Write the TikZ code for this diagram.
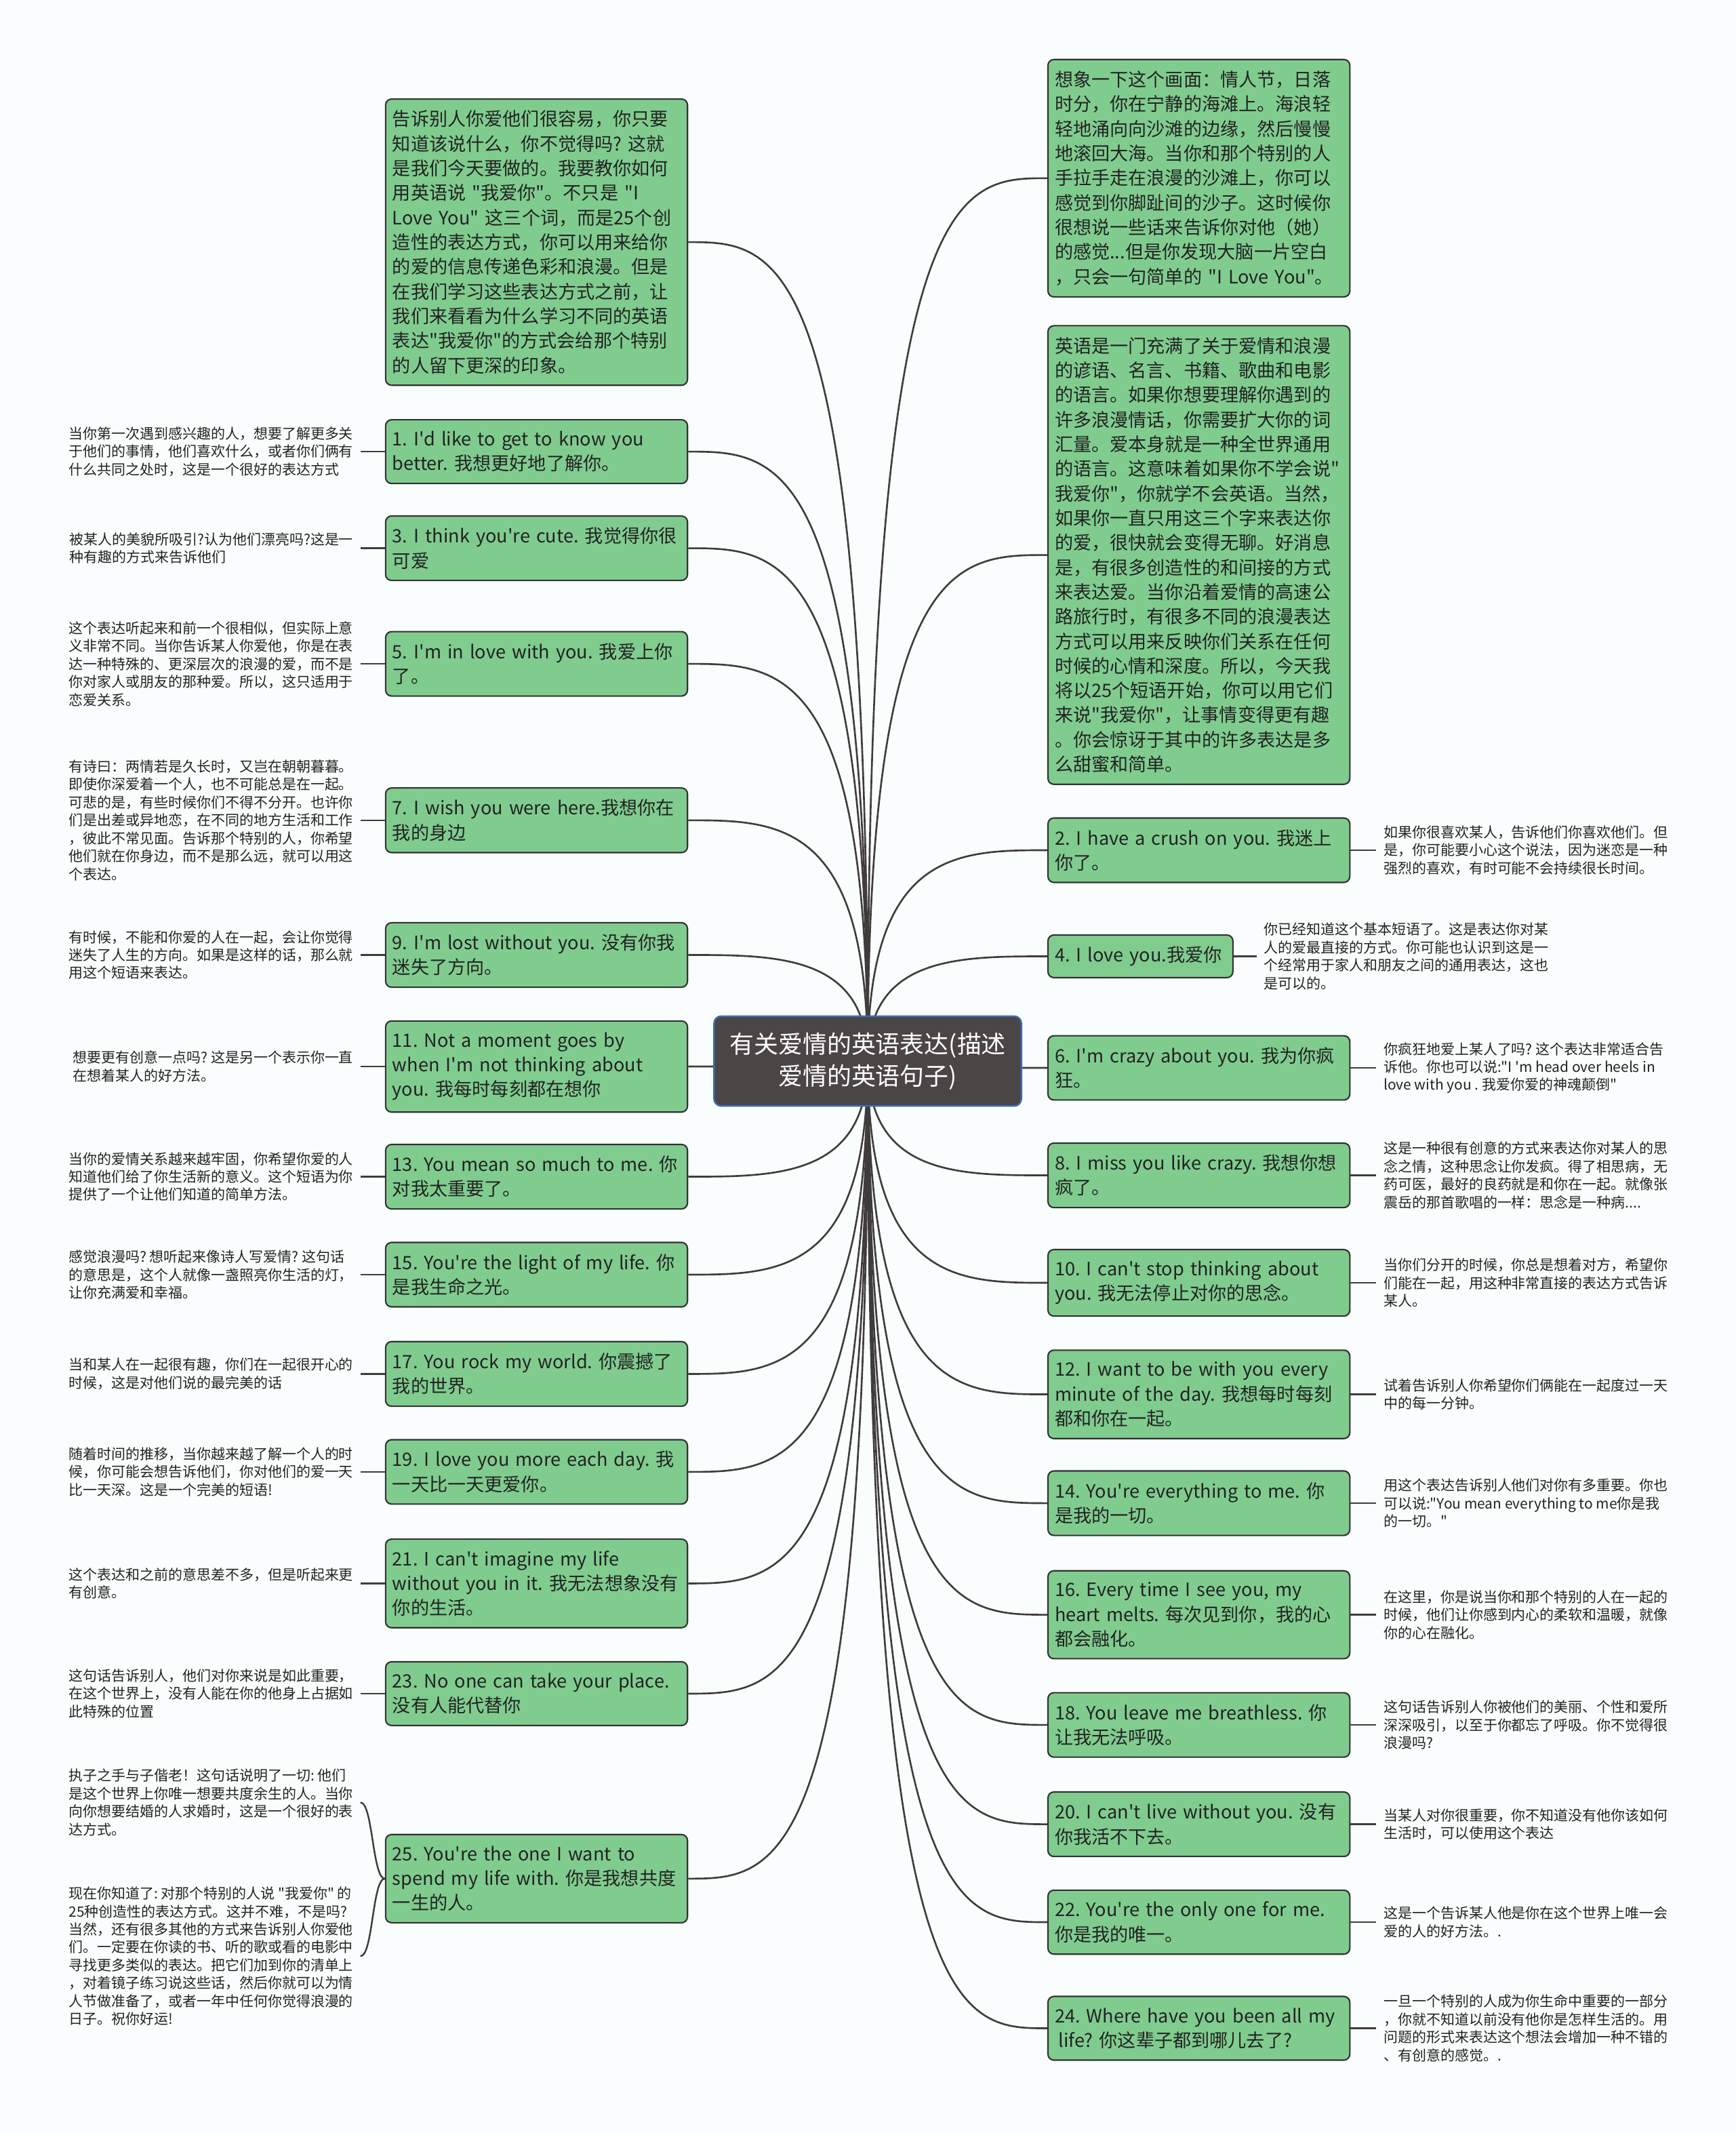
\documentclass[tikz,border=0pt]{standalone}
\usepackage{fontspec}
\setmainfont{Noto Sans CJK SC}[Ligatures=TeXOff]
\frenchspacing
\usetikzlibrary{calc,backgrounds}
\definecolor{MmGreen}{RGB}{128,204,143}
\definecolor{MmEdge}{RGB}{50,50,50}
\definecolor{MmInk}{RGB}{34,34,34}
\definecolor{MmLine}{RGB}{64,60,60}
\definecolor{MmRoot}{RGB}{74,70,70}
\definecolor{MmRootEdge}{RGB}{58,108,178}
\definecolor{MmPaper}{RGB}{250,253,253}
\tikzset{
  mm/root/.style={
    draw=MmRootEdge,
    line width=0.7pt,
    rounded corners=3pt,
    fill=MmRoot,
    text=white,
    align=center,
    minimum width=4.52cm,
    minimum height=1.32cm,
    font=\fontsize{10.2pt}{13.4pt}\selectfont
  },
  mm/box/.style={
    draw=MmEdge,
    line width=0.6pt,
    rounded corners=2.5pt,
    fill=MmGreen,
    text=MmInk,
    align=left,
    text width=4.24cm,
    inner xsep=0.1cm,
    inner ysep=4.8pt,
    font=\fontsize{7.7pt}{10.3pt}\selectfont
  },
  mm/note/.style={
    align=left,
    text=MmInk,
    inner xsep=0.1cm,
    inner ysep=2pt,
    font=\fontsize{5.95pt}{7.5pt}\selectfont
  },
  mm/link/.style={draw=MmLine, line width=0.75pt},
  mm/twig/.style={draw=MmLine, line width=0.7pt},
  mm/curve/.style={to path={.. controls (\tikztostart |- \tikztotarget) and ($(\tikztotarget)!0.5!(\tikztostart |- \tikztotarget)$) .. (\tikztotarget)}}
}

\begin{document}
\begin{tikzpicture}[x=0.02cm,y=-0.02cm]
  \useasboundingbox (0,0) rectangle (1276,1568);
  % centre
  \node[mm/root] (root) at (638,780) {有关爱情的英语表达(描述\\爱情的英语句子)};

  % left branch
  \node[mm/box,anchor=west] (intro) at (283,178) {告诉别人你爱他们很容易，你只要\\知道该说什么，你不觉得吗? 这就\\是我们今天要做的。我要教你如何\\用英语说 "我爱你"。不只是 "I\\Love You" 这三个词，而是25个创\\造性的表达方式，你可以用来给你\\的爱的信息传递色彩和浪漫。但是\\在我们学习这些表达方式之前，让\\我们来看看为什么学习不同的英语\\表达"我爱你"的方式会给那个特别\\的人留下更深的印象。};
  \node[mm/box,anchor=west] (p1) at (283,332) {1. I'd like to get to know you\\better. 我想更好地了解你。};
  \node[mm/box,anchor=west] (p3) at (283,403) {3. I think you're cute. 我觉得你很\\可爱};
  \node[mm/box,anchor=west] (p5) at (283,488) {5. I'm in love with you. 我爱上你\\了。};
  \node[mm/box,anchor=west] (p7) at (283,603) {7. I wish you were here.我想你在\\我的身边};
  \node[mm/box,anchor=west] (p9) at (283,702) {9. I'm lost without you. 没有你我\\迷失了方向。};
  \node[mm/box,anchor=west] (p11) at (283,784) {11. Not a moment goes by\\when I'm not thinking about\\you. 我每时每刻都在想你};
  \node[mm/box,anchor=west] (p13) at (283,865) {13. You mean so much to me. 你\\对我太重要了。};
  \node[mm/box,anchor=west] (p15) at (283,937) {15. You're the light of my life. 你\\是我生命之光。};
  \node[mm/box,anchor=west] (p17) at (283,1010) {17. You rock my world. 你震撼了\\我的世界。};
  \node[mm/box,anchor=west] (p19) at (283,1082) {19. I love you more each day. 我\\一天比一天更爱你。};
  \node[mm/box,anchor=west] (p21) at (283,1164) {21. I can't imagine my life\\without you in it. 我无法想象没有\\你的生活。};
  \node[mm/box,anchor=west] (p23) at (283,1245) {23. No one can take your place.\\没有人能代替你};
  \node[mm/box,anchor=west] (p25) at (283,1381) {25. You're the one I want to\\spend my life with. 你是我想共度\\一生的人。};

  \node[mm/note,anchor=east] (c1) at (265,332) {当你第一次遇到感兴趣的人，想要了解更多关\\于他们的事情，他们喜欢什么，或者你们俩有\\什么共同之处时，这是一个很好的表达方式};
  \node[mm/note,anchor=east] (c3) at (265,403) {被某人的美貌所吸引?认为他们漂亮吗?这是一\\种有趣的方式来告诉他们};
  \node[mm/note,anchor=east] (c5) at (265,488) {这个表达听起来和前一个很相似，但实际上意\\义非常不同。当你告诉某人你爱他，你是在表\\达一种特殊的、更深层次的浪漫的爱，而不是\\你对家人或朋友的那种爱。所以，这只适用于\\恋爱关系。};
  \node[mm/note,anchor=east] (c7) at (265,603) {有诗曰：两情若是久长时，又岂在朝朝暮暮。\\即使你深爱着一个人，也不可能总是在一起。\\可悲的是，有些时候你们不得不分开。也许你\\们是出差或异地恋，在不同的地方生活和工作\\，彼此不常见面。告诉那个特别的人，你希望\\他们就在你身边，而不是那么远，就可以用这\\个表达。};
  \node[mm/note,anchor=east] (c9) at (265,702) {有时候，不能和你爱的人在一起，会让你觉得\\迷失了人生的方向。如果是这样的话，那么就\\用这个短语来表达。};
  \node[mm/note,anchor=east] (c11) at (265,784) {想要更有创意一点吗? 这是另一个表示你一直\\在想着某人的好方法。};
  \node[mm/note,anchor=east] (c13) at (265,865) {当你的爱情关系越来越牢固，你希望你爱的人\\知道他们给了你生活新的意义。这个短语为你\\提供了一个让他们知道的简单方法。};
  \node[mm/note,anchor=east] (c15) at (265,937) {感觉浪漫吗? 想听起来像诗人写爱情? 这句话\\的意思是，这个人就像一盏照亮你生活的灯，\\让你充满爱和幸福。};
  \node[mm/note,anchor=east] (c17) at (265,1010) {当和某人在一起很有趣，你们在一起很开心的\\时候，这是对他们说的最完美的话};
  \node[mm/note,anchor=east] (c19) at (265,1082) {随着时间的推移，当你越来越了解一个人的时\\候，你可能会想告诉他们，你对他们的爱一天\\比一天深。这是一个完美的短语!};
  \node[mm/note,anchor=east] (c21) at (265,1164) {这个表达和之前的意思差不多，但是听起来更\\有创意。};
  \node[mm/note,anchor=east] (c23) at (265,1245) {这句话告诉别人，他们对你来说是如此重要，\\在这个世界上，没有人能在你的他身上占据如\\此特殊的位置};
  \node[mm/note,anchor=east] (c25a) at (265,1325) {执子之手与子偕老！这句话说明了一切: 他们\\是这个世界上你唯一想要共度余生的人。当你\\向你想要结婚的人求婚时，这是一个很好的表\\达方式。};
  \node[mm/note,anchor=east] (c25b) at (265,1438) {现在你知道了: 对那个特别的人说 "我爱你" 的\\25种创造性的表达方式。这并不难，不是吗?\\当然，还有很多其他的方式来告诉别人你爱他\\们。一定要在你读的书、听的歌或看的电影中\\寻找更多类似的表达。把它们加到你的清单上\\，对着镜子练习说这些话，然后你就可以为情\\人节做准备了，或者一年中任何你觉得浪漫的\\日子。祝你好运!};

  % right branch
  \node[mm/box,anchor=west] (scene) at (770,131) {想象一下这个画面：情人节，日落\\时分，你在宁静的海滩上。海浪轻\\轻地涌向向沙滩的边缘，然后慢慢\\地滚回大海。当你和那个特别的人\\手拉手走在浪漫的沙滩上，你可以\\感觉到你脚趾间的沙子。这时候你\\很想说一些话来告诉你对他（她）\\的感觉...但是你发现大脑一片空白\\，只会一句简单的 "I Love You"。};
  \node[mm/box,anchor=west] (english) at (770,408) {英语是一门充满了关于爱情和浪漫\\的谚语、名言、书籍、歌曲和电影\\的语言。如果你想要理解你遇到的\\许多浪漫情话，你需要扩大你的词\\汇量。爱本身就是一种全世界通用\\的语言。这意味着如果你不学会说"\\我爱你"，你就学不会英语。当然，\\如果你一直只用这三个字来表达你\\的爱，很快就会变得无聊。好消息\\是，有很多创造性的和间接的方式\\来表达爱。当你沿着爱情的高速公\\路旅行时，有很多不同的浪漫表达\\方式可以用来反映你们关系在任何\\时候的心情和深度。所以，今天我\\将以25个短语开始，你可以用它们\\来说"我爱你"，让事情变得更有趣\\。你会惊讶于其中的许多表达是多\\么甜蜜和简单。};
  \node[mm/box,anchor=west] (p2) at (770,625) {2. I have a crush on you. 我迷上\\你了。};
  \node[mm/box,anchor=west,text width=2.52cm] (p4) at (770,703) {4. I love you.我爱你};
  \node[mm/box,anchor=west] (p6) at (770,785) {6. I'm crazy about you. 我为你疯\\狂。};
  \node[mm/box,anchor=west] (p8) at (770,864) {8. I miss you like crazy. 我想你想\\疯了。};
  \node[mm/box,anchor=west] (p10) at (770,943) {10. I can't stop thinking about\\you. 我无法停止对你的思念。};
  \node[mm/box,anchor=west] (p12) at (770,1025) {12. I want to be with you every\\minute of the day. 我想每时每刻\\都和你在一起。};
  \node[mm/box,anchor=west] (p14) at (770,1105) {14. You're everything to me. 你\\是我的一切。};
  \node[mm/box,anchor=west] (p16) at (770,1187) {16. Every time I see you, my\\heart melts. 每次见到你，我的心\\都会融化。};
  \node[mm/box,anchor=west] (p18) at (770,1268) {18. You leave me breathless. 你\\让我无法呼吸。};
  \node[mm/box,anchor=west] (p20) at (770,1341) {20. I can't live without you. 没有\\你我活不下去。};
  \node[mm/box,anchor=west] (p22) at (770,1413) {22. You're the only one for me.\\你是我的唯一。};
  \node[mm/box,anchor=west] (p24) at (770,1491) {24. Where have you been all my\\\hspace*{1.5pt}life? 你这辈子都到哪儿去了?};

  \node[mm/note,anchor=west] (c2) at (1012,625) {如果你很喜欢某人，告诉他们你喜欢他们。但\\是，你可能要小心这个说法，因为迷恋是一种\\强烈的喜欢，有时可能不会持续很长时间。};
  \node[mm/note,anchor=west] (c4) at (924,703) {你已经知道这个基本短语了。这是表达你对某\\人的爱最直接的方式。你可能也认识到这是一\\个经常用于家人和朋友之间的通用表达，这也\\是可以的。};
  \node[mm/note,anchor=west] (c6) at (1012,785) {你疯狂地爱上某人了吗? 这个表达非常适合告\\诉他。你也可以说:"I 'm head over heels in\\love with you . 我爱你爱的神魂颠倒"};
  \node[mm/note,anchor=west] (c8) at (1012,864) {这是一种很有创意的方式来表达你对某人的思\\念之情，这种思念让你发疯。得了相思病，无\\药可医，最好的良药就是和你在一起。就像张\\震岳的那首歌唱的一样：思念是一种病....};
  \node[mm/note,anchor=west] (c10) at (1012,943) {当你们分开的时候，你总是想着对方，希望你\\们能在一起，用这种非常直接的表达方式告诉\\某人。};
  \node[mm/note,anchor=west] (c12) at (1012,1025) {试着告诉别人你希望你们俩能在一起度过一天\\中的每一分钟。};
  \node[mm/note,anchor=west] (c14) at (1012,1105) {用这个表达告诉别人他们对你有多重要。你也\\可以说:"You mean everything to me你是我\\的一切。"};
  \node[mm/note,anchor=west] (c16) at (1012,1187) {在这里，你是说当你和那个特别的人在一起的\\时候，他们让你感到内心的柔软和温暖，就像\\你的心在融化。};
  \node[mm/note,anchor=west] (c18) at (1012,1268) {这句话告诉别人你被他们的美丽、个性和爱所\\深深吸引，以至于你都忘了呼吸。你不觉得很\\浪漫吗?};
  \node[mm/note,anchor=west] (c20) at (1012,1341) {当某人对你很重要，你不知道没有他你该如何\\生活时，可以使用这个表达};
  \node[mm/note,anchor=west] (c22) at (1012,1413) {这是一个告诉某人他是你在这个世界上唯一会\\爱的人的好方法。.};
  \node[mm/note,anchor=west] (c24) at (1012,1491) {一旦一个特别的人成为你生命中重要的一部分\\，你就不知道以前没有他你是怎样生活的。用\\问题的形式来表达这个想法会增加一种不错的\\、有创意的感觉。.};

  \begin{scope}[on background layer]
    \fill[MmPaper] (0,0) rectangle (1276,1568);
    % branches from the centre
    \draw[mm/link] (root.center) to[mm/curve] (intro.east);
    \draw[mm/link] (root.center) to[mm/curve] (p1.east);
    \draw[mm/link] (root.center) to[mm/curve] (p3.east);
    \draw[mm/link] (root.center) to[mm/curve] (p5.east);
    \draw[mm/link] (root.center) to[mm/curve] (p7.east);
    \draw[mm/link] (root.center) to[mm/curve] (p9.east);
    \draw[mm/link] (root.center) to[mm/curve] (p11.east);
    \draw[mm/link] (root.center) to[mm/curve] (p13.east);
    \draw[mm/link] (root.center) to[mm/curve] (p15.east);
    \draw[mm/link] (root.center) to[mm/curve] (p17.east);
    \draw[mm/link] (root.center) to[mm/curve] (p19.east);
    \draw[mm/link] (root.center) to[mm/curve] (p21.east);
    \draw[mm/link] (root.center) to[mm/curve] (p23.east);
    \draw[mm/link] (root.center) to[mm/curve] (p25.east);
    \draw[mm/link] (root.center) to[mm/curve] (scene.west);
    \draw[mm/link] (root.center) to[mm/curve] (english.west);
    \draw[mm/link] (root.center) to[mm/curve] (p2.west);
    \draw[mm/link] (root.center) to[mm/curve] (p4.west);
    \draw[mm/link] (root.center) to[mm/curve] (p6.west);
    \draw[mm/link] (root.center) to[mm/curve] (p8.west);
    \draw[mm/link] (root.center) to[mm/curve] (p10.west);
    \draw[mm/link] (root.center) to[mm/curve] (p12.west);
    \draw[mm/link] (root.center) to[mm/curve] (p14.west);
    \draw[mm/link] (root.center) to[mm/curve] (p16.west);
    \draw[mm/link] (root.center) to[mm/curve] (p18.west);
    \draw[mm/link] (root.center) to[mm/curve] (p20.west);
    \draw[mm/link] (root.center) to[mm/curve] (p22.west);
    \draw[mm/link] (root.center) to[mm/curve] (p24.west);
    % notes
    \draw[mm/twig] (p1.west) -- (c1.east);
    \draw[mm/twig] (p3.west) -- (c3.east);
    \draw[mm/twig] (p5.west) -- (c5.east);
    \draw[mm/twig] (p7.west) -- (c7.east);
    \draw[mm/twig] (p9.west) -- (c9.east);
    \draw[mm/twig] (p11.west) -- (c11.east);
    \draw[mm/twig] (p13.west) -- (c13.east);
    \draw[mm/twig] (p15.west) -- (c15.east);
    \draw[mm/twig] (p17.west) -- (c17.east);
    \draw[mm/twig] (p19.west) -- (c19.east);
    \draw[mm/twig] (p21.west) -- (c21.east);
    \draw[mm/twig] (p23.west) -- (c23.east);
    \draw[mm/twig] (p25.west) to[out=180,in=0,looseness=0.4] (c25a.east);
    \draw[mm/twig] (p25.west) to[out=180,in=0,looseness=0.4] (c25b.east);
    \draw[mm/twig] (p2.east) -- (c2.west);
    \draw[mm/twig] (p4.east) -- (c4.west);
    \draw[mm/twig] (p6.east) -- (c6.west);
    \draw[mm/twig] (p8.east) -- (c8.west);
    \draw[mm/twig] (p10.east) -- (c10.west);
    \draw[mm/twig] (p12.east) -- (c12.west);
    \draw[mm/twig] (p14.east) -- (c14.west);
    \draw[mm/twig] (p16.east) -- (c16.west);
    \draw[mm/twig] (p18.east) -- (c18.west);
    \draw[mm/twig] (p20.east) -- (c20.west);
    \draw[mm/twig] (p22.east) -- (c22.west);
    \draw[mm/twig] (p24.east) -- (c24.west);
  \end{scope}
\end{tikzpicture}
\end{document}
